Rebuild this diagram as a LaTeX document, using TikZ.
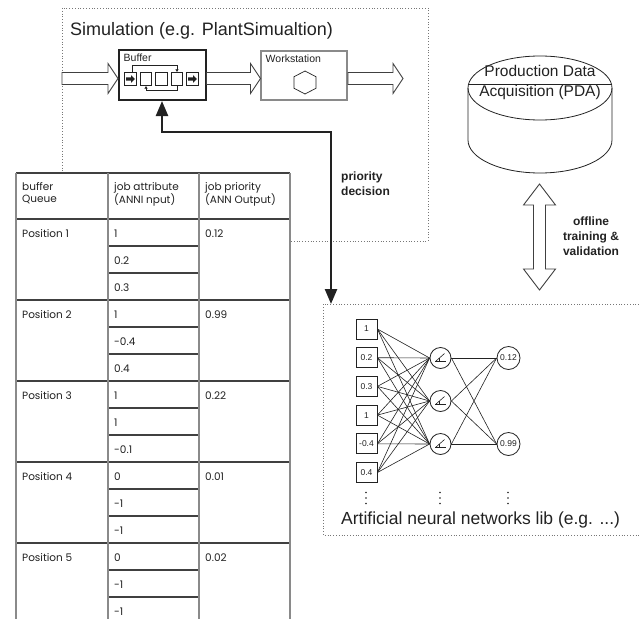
\documentclass[tikz,border=0pt]{standalone}
\usepackage{fontspec}
\setmainfont{Liberation Sans}
\newfontfamily\tabfont{Poppins}
\usetikzlibrary{arrows.meta,calc}
\definecolor{ink}{HTML}{222222}
\definecolor{grayline}{HTML}{8A8A8A}
\definecolor{dotgray}{HTML}{777777}
\begin{document}
\begin{tikzpicture}[x=1pt,y=-1pt,
  every node/.style={text=ink, inner sep=0pt},
  dotbox/.style={draw=dotgray, line width=0.9pt, dash pattern=on 0.9pt off 1.9pt},
  hollow/.style={draw=black!75, line width=0.9pt, fill=white, line join=miter},
  sq/.style={draw=ink, line width=0.7pt, minimum width=11.5pt, minimum height=13.5pt},
  inbox/.style={draw=ink, line width=0.8pt, minimum width=21pt, minimum height=20pt, font=\fontsize{8.5}{9}\selectfont},
  hid/.style={draw=ink, circle, line width=0.8pt, minimum size=21pt},
  outn/.style={draw=ink, circle, line width=0.8pt, minimum size=23pt, font=\fontsize{8.5}{9}\selectfont},
  wire/.style={draw=ink, line width=0.6pt},
  tabtxt/.style={anchor=base west, font=\tabfont\fontsize{10.5}{12.5}\selectfont},
  tabhead/.style={anchor=north west, font=\tabfont\fontsize{10.5}{12}\selectfont, align=left},
  boldlbl/.style={font=\bfseries\fontsize{12}{15}\selectfont},
  tabdark/.style={draw=black!75, line width=1.1pt},
  tabgray/.style={draw=grayline, line width=1.4pt},
  prio/.style={draw=ink, line width=2.4pt, {Triangle[width=12pt,length=15pt]}-{Triangle[width=12pt,length=15pt]}},
  small/.style={font=\fontsize{10.5}{12}\selectfont},
]
\useasboundingbox (0,0) rectangle (639,618);
\fill[white] (0,0) rectangle (639,618);

% ---------- simulation frame ----------
\draw[dotbox] (62,8) rectangle (428,241);
\node[anchor=base west, font=\fontsize{18}{20}\selectfont] (simtitle) at (70,35.5) {Simulation (e.g. PlantSimualtion)};

% buffer
\node[draw=ink, line width=2pt, minimum width=87pt, minimum height=49.5pt] (buffer) at (162,75.25) {};
\node[small, anchor=base west] (bufferlbl) at (123.5,61.5) {Buffer};
\foreach \x [count=\i] in {130.5,146,161.5,177,192.5}
  \node[sq] (s\i) at (\x,79) {};
\foreach \k in {1,5}{
  \begin{scope}[shift={(s\k.center)}]
    \fill[ink] (-4.5,-1.6) -- (0.5,-1.6) -- (0.5,-3.8) -- (4.5,0) -- (0.5,3.8) -- (0.5,1.6) -- (-4.5,1.6) -- cycle;
  \end{scope}
}
\draw[ink, line width=0.7pt, -{Triangle[width=3pt,length=2.5pt]}] ($(s1.north)+(2,0)$) -- ++(0,-7) -| (s4.north);
\draw[ink, line width=0.7pt, -{Triangle[width=3pt,length=2.5pt]}] (s4.south) -- ++(0,4.5) -| (s2.south);

% workstation
\node[draw=grayline, line width=1.5pt, minimum width=86pt, minimum height=49pt] (ws) at (304,75.5) {};
\node[small, anchor=base west] (wslbl) at (265.5,62.5) {Workstation};
\coordinate (hexc) at (305,82.5);
\draw[ink, line width=0.7pt] ($(hexc)+(0,-11.5)$) -- ($(hexc)+(11,-5.75)$) -- ($(hexc)+(11,5.75)$) -- ($(hexc)+(0,11.5)$) -- ($(hexc)+(-11,5.75)$) -- ($(hexc)+(-11,-5.75)$) -- cycle;

% hollow flow arrows
\newcommand\hollowarrow[3]{%
  \draw[hollow] (#1,78.5-6) -- (#2-10,78.5-6) -- (#2-10,78.5-15) -- (#2,78.5) -- (#2-10,78.5+15) -- (#2-10,78.5+6) -- (#1,78.5+6) -- cycle;}
\hollowarrow{62}{118}{}
\hollowarrow{206.5}{260.5}{}
\hollowarrow{348}{403}{}

% ---------- table ----------
\fill[white] (16,173) rectangle (290,630);
\draw[tabdark] (16,173) -- (290,173);
\draw[tabdark] (16,219) -- (290,219);
\foreach \p/\o/\a/\b/\c [count=\i from 0] in
  {Position 1/0.12/1/0.2/0.3, Position 2/0.99/1/-0.4/0.4, Position 3/0.22/1/1/-0.1,
   Position 4/0.01/0/-1/-1, Position 5/0.02/0/-1/-1}{
  \pgfmathsetmacro\t{219+81*\i}
  \draw[tabdark] (16,\t) -- (290,\t);
  \draw[tabdark] (108,\t+27) -- (199,\t+27);
  \draw[tabdark] (108,\t+54) -- (199,\t+54);
  \node[tabtxt] (pos\i) at (22,\t+18) {\p};
  \node[tabtxt] (pa\i) at (114,\t+18) {\a};
  \node[tabtxt] (pb\i) at (114,\t+45) {\b};
  \node[tabtxt] (pc\i) at (114,\t+72) {\c};
  \node[tabtxt] (po\i) at (205,\t+18) {\o};
}
\foreach \x in {16,108,199,290} \draw[tabgray] (\x,173) -- (\x,630);
\node[tabhead] (h1t) at (22,182) {buffer\\Queue};
\node[tabhead] (h2t) at (114,182) {job attribute\\(ANNI nput)};
\node[tabhead] (h3t) at (205,182) {job priority\\(ANN Output)};

% ---------- PDA cylinder ----------
\draw[ink, line width=0.8pt, fill=white] (468,88) -- (468,140) arc[start angle=180,end angle=360,x radius=72pt,y radius=33pt] -- (612,88);
\draw[ink, line width=0.8pt] (540,88) ellipse [x radius=72pt, y radius=32pt];
\draw[ink, line width=0.8pt] (468,84) -- (612,84);
\node[align=center, font=\fontsize{15.5}{20}\selectfont] (pda) at (540,82.5) {Production Data\\Acquisition (PDA)};

% double hollow arrow
\draw[hollow] (539.5,184) -- (555.5,205) -- (545.5,205) -- (545.5,269) -- (555.5,269) -- (539.5,290) -- (523.5,269) -- (533.5,269) -- (533.5,205) -- (523.5,205) -- cycle;
\node[boldlbl, align=center, anchor=north] (offl) at (591,217) {offline\\training \&\\validation};

% ---------- ANN frame ----------
\draw[dotbox] (639,304) -- (323,304) -- (323,535) -- (639,535);
\foreach \v [count=\i] in {1,0.2,0.3,1,-0.4,0.4}
  \node[inbox] (in\i) at (366.5,{329+28.7*(\i-1)}) {\v};
\node[hid] (h1) at (440.5,358) {};
\node[hid] (h2) at (440.5,401) {};
\node[hid] (h3) at (440.5,444) {};
\node[outn] (o1) at (508.5,358) {0.12};
\node[outn] (o2) at (508.5,444) {0.99};
\foreach \i in {1,...,6} \foreach \j in {1,2,3} \draw[wire] (in\i.east) -- (h\j.west);
\foreach \j in {1,2,3} \foreach \k in {1,2} \draw[wire] (h\j.east) -- (o\k.west);
\foreach \j in {1,2,3}{
  \begin{scope}[shift={(h\j.center)}]
    \draw[ink, line width=0.6pt] (-5.5,3.5) -- (5,3.5);
    \draw[ink, line width=0.6pt] (-5,3.5) -- (4,-4.5);
    \draw[ink, line width=0.6pt] (-1,-0.5) -- (-1,3.5);
  \end{scope}
}
\foreach \x in {366,440,508} \foreach \y in {492.5,498,503.5} \fill[ink] (\x,\y) circle[radius=0.9pt];
\node[anchor=west, font=\fontsize{17.5}{20}\selectfont] (annlbl) at (341,520) {Artificial neural networks lib (e.g. ...)};

% ---------- priority decision connector ----------
\coordinate (annin) at (331,304);
\draw[prio] (buffer.south) -- ($(buffer.south)+(0,31)$) -| (annin);
\node[boldlbl, align=left, anchor=north west] (prio) at (341,172) {priority\\decision};
\end{tikzpicture}
\end{document}
